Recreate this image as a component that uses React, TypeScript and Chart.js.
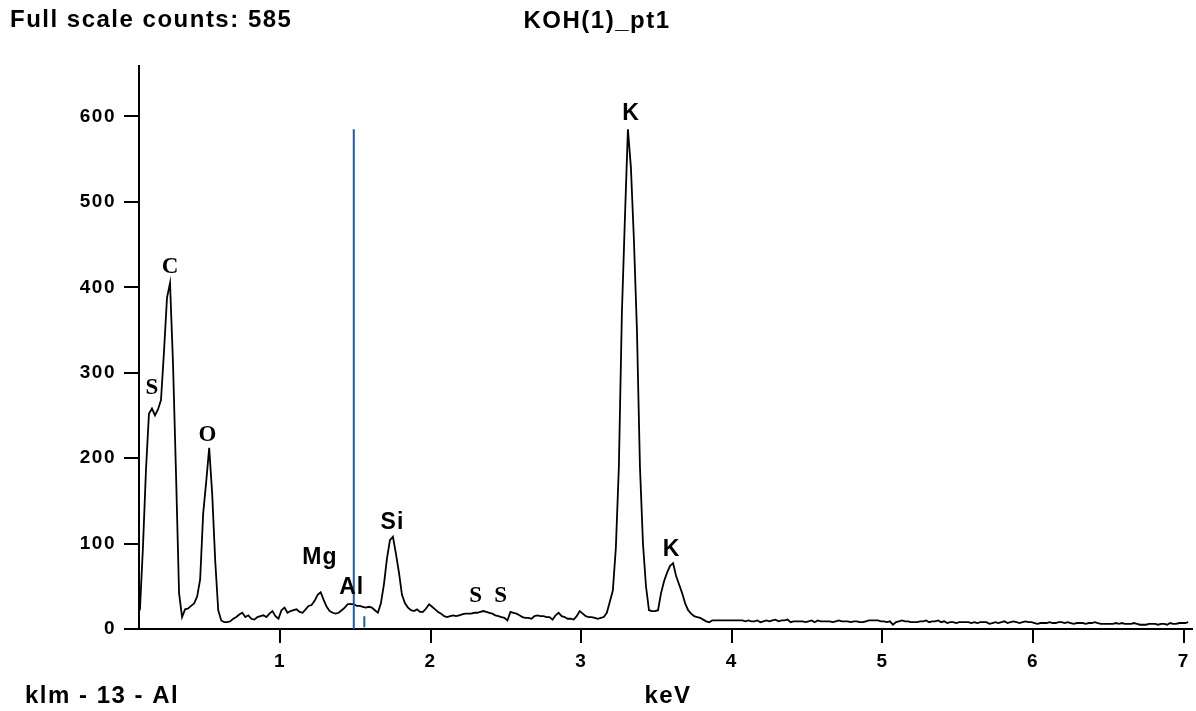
import { useEffect, useRef } from "react";
import { Chart, registerables } from "chart.js";

Chart.register(...registerables);

// EDS spectrum: counts per 20 eV channel, stored in contiguous energy segments
const CHANNEL_KEV = 0.02;

const LOW_START_KEV = 0.07; // S-L, C-K, O-K region
const lowCounts = [
  22, 95, 185, 252, 258, 250, 257, 268, 325, 388,
  405, 310, 180, 42, 14, 23, 24, 27, 30, 38,
  58, 135, 172, 212, 158, 80, 22, 10, 8, 8,
  9, 12, 14, 17, 19, 14, 16,
];

const MID_A_START_KEV = 0.81; // Mg, Al, Si region
const midCountsA = [
  12, 11, 14, 15, 16, 14, 18, 21, 15, 12,
  22, 25, 19, 21, 22, 23, 20, 19, 23, 27,
  28, 33, 40, 43, 34, 26, 21, 19, 18, 19,
  22, 25, 29, 29, 29, 27, 27, 26, 25, 26,
  25, 22, 19, 30, 52, 82, 104, 108, 88, 66,
  40, 30, 25, 22, 21, 23, 20, 20, 24, 29,
];

const MID_B_START_KEV = 2.01; // S-K region
const midCountsB = [
  26, 23, 20, 18, 15, 14, 15, 16, 15, 16,
  17, 18, 18, 18, 19, 19, 20, 21, 20, 19,
  18, 16, 15, 14, 13, 10, 20, 19, 18, 16,
  14, 13, 13, 12, 15, 16, 15, 15, 14, 14,
  11, 16, 19, 15, 14, 12, 12, 11, 15, 21,
  18, 15, 14, 14, 13, 12, 13, 14,
];

const K_START_KEV = 3.17; // K-Ka / K-Kb
const kCounts = [
  19, 32, 45, 95, 190, 370, 480, 585, 540, 455,
  350, 190, 100, 50, 22, 21, 21, 22, 42, 56,
  66, 74, 77, 62, 52, 42, 30, 22, 18, 15,
  14, 13, 11,
];

const TAIL_START_KEV = 3.83; // background up to 7 keV
const tailCounts = [
  9, 8, 10, 10, 10, 10, 10, 10, 10, 10,
  10, 10, 10, 9, 10, 9, 9, 10, 8, 9,
  10, 9, 10, 11, 9, 10, 10, 11, 8, 9,
  9, 9, 9, 8, 9, 10, 8, 10, 9, 9,
  9, 9, 8, 9, 10, 9, 9, 9, 8, 9,
  9, 8, 8, 9, 10, 10, 10, 10, 9, 9,
  8, 9, 5, 8, 9, 10, 9, 9, 8, 8,
  8, 9, 9, 10, 8, 9, 9, 10, 8, 9,
  7, 8, 8, 7, 8, 8, 8, 8, 7, 8,
  7, 8, 8, 8, 6, 7, 8, 7, 8, 9,
  7, 8, 9, 8, 7, 8, 9, 8, 8, 7,
  6, 7, 7, 7, 8, 7, 7, 8, 8, 7,
  8, 7, 6, 7, 7, 7, 6, 7, 7, 8,
  7, 6, 6, 6, 6, 6, 7, 6, 7, 6,
  6, 6, 7, 6, 5, 5, 5, 6, 6, 6,
  5, 6, 6, 5, 7, 6, 6, 7, 7, 7,
  8,
];

// Al line markers (Ka full height, Kb short)
const markerKeV = [1.49, 1.56];
const markerLow = [0, 2];
const markerHigh = [585, 15];

// element labels, anchored at (keV, counts) of their centres
const peakLabelText = ["S", "C", "O", "Mg", "Al", "Si", "S", "S", "K", "K"];
const peakLabelKeV = [0.149, 0.27, 0.519, 1.265, 1.476, 1.747, 2.299, 2.465, 3.331, 3.599];
const peakLabelCounts = [284, 426, 230, 85, 50, 127, 41, 41, 605, 95];
const peakLabelSerif = [true, true, true, false, false, false, true, true, false, false];

const xTickValues = [1, 2, 3, 4, 5, 6, 7];
const yTickValues = [0, 100, 200, 300, 400, 500, 600];

const HEADER_TEXT = "Full scale counts: 585";
const TITLE_TEXT = "KOH(1)_pt1";
const FOOTER_TEXT = "klm - 13 - Al";
const AXIS_TEXT = "keV";

const SANS = '"Liberation Sans", Arial, sans-serif';
const SERIF = '"Liberation Serif", "Times New Roman", serif';

function segment(start: number, counts: number[]) {
  return counts.map((c, i) => ({ x: +(start + i * CHANNEL_KEV).toFixed(2), y: c }));
}

const spectrum = [
  ...segment(LOW_START_KEV, lowCounts),
  ...segment(MID_A_START_KEV, midCountsA),
  ...segment(MID_B_START_KEV, midCountsB),
  ...segment(K_START_KEV, kCounts),
  ...segment(TAIL_START_KEV, tailCounts),
];

function setSpacing(ctx: CanvasRenderingContext2D, px: number) {
  (ctx as any).letterSpacing = `${px}px`;
}

const textPlugin = {
  id: "spectrumText",
  beforeDraw(chart: Chart) {
    // slightly looser digits on the axis tick labels
    setSpacing(chart.ctx, 1.5);
  },
  afterDraw(chart: Chart) {
    const { ctx } = chart;
    const xs = chart.scales.x;
    const ys = chart.scales.y;
    ctx.save();
    ctx.fillStyle = "#000";
    ctx.textBaseline = "alphabetic";

    ctx.font = `bold 24px ${SANS}`;
    setSpacing(ctx, 1.5);
    ctx.textAlign = "left";
    ctx.fillText(HEADER_TEXT, 10, 27);
    ctx.textAlign = "center";
    ctx.fillText(TITLE_TEXT, 597, 28);
    ctx.textAlign = "left";
    ctx.fillText(FOOTER_TEXT, 25, 703);
    ctx.textAlign = "center";
    ctx.fillText(AXIS_TEXT, 668, 703);

    const fs = 23;
    peakLabelText.forEach((t, i) => {
      ctx.font = peakLabelSerif[i] ? `bold ${fs}px ${SERIF}` : `bold ${fs}px ${SANS}`;
      setSpacing(ctx, peakLabelSerif[i] ? 0 : 1);
      ctx.textAlign = "center";
      const px = xs.getPixelForValue(peakLabelKeV[i]);
      const py = ys.getPixelForValue(peakLabelCounts[i]);
      ctx.fillText(t, px, py + fs * 0.35);
    });
    ctx.restore();
    setSpacing(ctx, 0);
  },
};

export default function App() {
  const canvasRef = useRef<HTMLCanvasElement | null>(null);

  useEffect(() => {
    const canvas = canvasRef.current;
    if (!canvas) return;
    const markerSets = markerKeV.map((e, i) => ({
      data: [
        { x: e, y: markerLow[i] },
        { x: e, y: markerHigh[i] },
      ],
      borderColor: "#1f5ba6",
      borderWidth: 2,
      pointRadius: 0,
      tension: 0,
    }));
    const chart = new Chart(canvas, {
      type: "line",
      data: {
        datasets: [
          ...markerSets,
          {
            data: spectrum,
            borderColor: "#000",
            borderWidth: 1.8,
            pointRadius: 0,
            tension: 0,
          },
        ],
      },
      options: {
        responsive: false,
        animation: false,
        layout: { padding: { top: 66, right: 4, left: 0, bottom: 0 } },
        plugins: { legend: { display: false }, tooltip: { enabled: false }, title: { display: false } },
        scales: {
          x: {
            type: "linear",
            min: 0.064,
            max: 7.052,
            afterBuildTicks: (s: any) => {
              s.ticks = xTickValues.map((v) => ({ value: v }));
            },
            afterFit: (s: any) => {
              s.height = 82;
            },
            grid: { drawOnChartArea: false, drawTicks: true, tickLength: 14, color: "#000", lineWidth: 2 },
            border: { display: true, color: "#000", width: 2 },
            ticks: {
              color: "#000",
              font: { family: SANS, size: 19, weight: "bold" },
              padding: 7,
              maxRotation: 0,
              autoSkip: false,
            },
          },
          y: {
            type: "linear",
            min: 0,
            max: 659,
            afterBuildTicks: (s: any) => {
              s.ticks = yTickValues.map((v) => ({ value: v }));
            },
            afterFit: (s: any) => {
              s.width = 139;
            },
            grid: { drawOnChartArea: false, drawTicks: true, tickLength: 15, color: "#000", lineWidth: 2 },
            border: { display: true, color: "#000", width: 2 },
            ticks: {
              color: "#000",
              font: { family: SANS, size: 19, weight: "bold" },
              padding: 8,
              autoSkip: false,
            },
          },
        },
      },
      plugins: [textPlugin],
    });
    return () => chart.destroy();
  }, []);

  return (
    <div style={{ position: "absolute", left: 0, top: 0, width: 1196, height: 711, background: "#fff" }}>
      <canvas ref={canvasRef} width={1196} height={711} style={{ display: "block", width: 1196, height: 711 }} />
    </div>
  );
}
